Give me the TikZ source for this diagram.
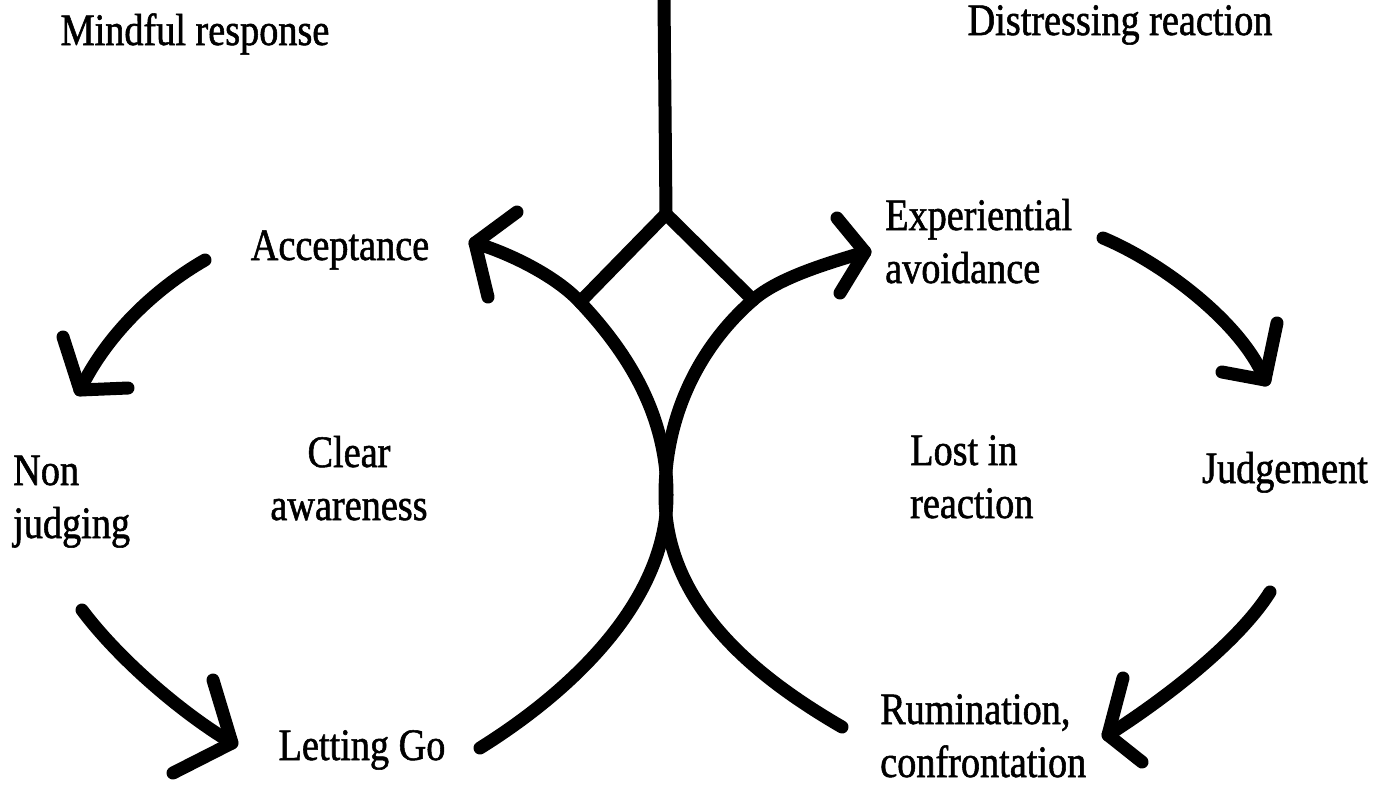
\documentclass[tikz,border=0pt]{standalone}
\usepackage{fontspec}
\setmainfont{Liberation Serif}[FakeStretch=0.85,FakeBold=1.2]
\begin{document}
\begin{tikzpicture}[x=1pt,y=-1pt,
  lbl/.style={inner sep=0pt, font=\fontsize{45}{53}\selectfont},
  stroke/.style={line width=13pt, line cap=round, line join=round}
]
\useasboundingbox (0,0) rectangle (1377,788);

% labels (multi-line nodes: base = baseline of last line)
\node[lbl, anchor=base] (mind) at (195,45) {Mindful response};
\node[lbl, anchor=base] (dist) at (1120,35) {Distressing reaction};
\node[lbl, anchor=base] (acc) at (340,260) {Acceptance};
\node[lbl, anchor=base west, align=left] (exp) at (885,283) {Experiential\\avoidance};
\node[lbl, anchor=base west, align=left] (non) at (13,538) {Non\\judging};
\node[lbl, anchor=base, align=center] (clear) at (349,520) {Clear\\awareness};
\node[lbl, anchor=base west, align=left] (lost) at (910,518) {Lost in\\reaction};
\node[lbl, anchor=base] (jud) at (1285,483) {Judgement};
\node[lbl, anchor=base] (let) at (362,760) {Letting Go};
\node[lbl, anchor=base west, align=left] (rum) at (880,777) {Rumination,\\confrontation};

% key points
\coordinate (top) at (664,0);
\coordinate (dtop) at (666,214);
\coordinate (dl) at (580,302);
\coordinate (dr) at (753,300);
\coordinate (ltip) at (475,243);
\coordinate (rtip) at (865,252);
\coordinate (lend) at (480,748);
\coordinate (rend) at (842,727);
\coordinate (xl) at (667,495);
\coordinate (xr) at (665,495);

% stem and diamond
\draw[stroke] (top) -- (dtop);
\draw[stroke] (dl) -- (dtop) -- (dr);

% big arcs
\draw[stroke] (lend) .. controls (565,695) and (667,605) .. (xl)
  .. controls (667,415) and (628,353) .. (dl)
  .. controls (556,276) and (509,253) .. (ltip);
\draw[stroke] (rend) .. controls (756,677) and (665,605) .. (xr)
  .. controls (665,415) and (700,346) .. (dr)
  .. controls (779,277) and (832,262) .. (rtip);
\draw[stroke] (517,212) -- (ltip) -- (488,297);
\draw[stroke] (837,218) -- (rtip) -- (840,293);

% Acceptance -> Non judging
\coordinate (a1s) at (205,260); \coordinate (a1t) at (80,390);
\draw[stroke] (a1s) .. controls (153,290) and (106,336) .. (a1t);
\draw[stroke] (63,337) -- (a1t) -- (128,388);

% Non judging -> Letting Go
\coordinate (a2s) at (82,610); \coordinate (a2t) at (232,743);
\draw[stroke] (a2s) .. controls (118,658) and (180,712) .. (a2t);
\draw[stroke] (213,680) -- (a2t) -- (173,773);

% Experiential avoidance -> Judgement
\coordinate (a3s) at (1103,238); \coordinate (a3t) at (1265,380);
\draw[stroke] (a3s) .. controls (1163,263) and (1243,324) .. (a3t);
\draw[stroke] (1277,323) -- (a3t) -- (1222,372);

% Judgement -> Rumination
\coordinate (a4s) at (1270,592); \coordinate (a4t) at (1108,735);
\draw[stroke] (a4s) .. controls (1238,643) and (1163,700) .. (a4t);
\draw[stroke] (1123,678) -- (a4t) -- (1142,762);
\end{tikzpicture}
\end{document}
